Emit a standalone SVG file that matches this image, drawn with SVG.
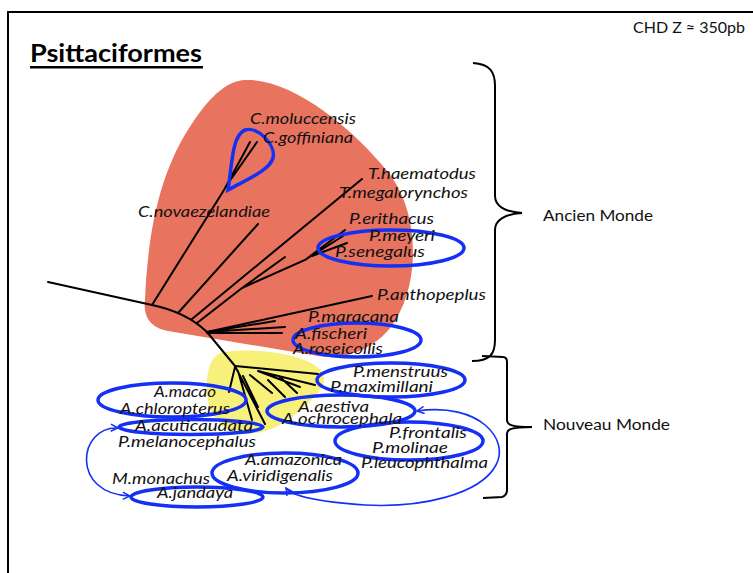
<svg xmlns="http://www.w3.org/2000/svg" width="753" height="573" viewBox="0 0 753 573">
<style>
.sp{font-family:Lato,"Liberation Sans",sans-serif;font-style:italic;font-size:15.5px;fill:#111}
.rg{font-family:Lato,"Liberation Sans",sans-serif;font-size:15.5px;fill:#111}
.br{fill:none;stroke:#000;stroke-width:2}
.tr{fill:none;stroke:#000;stroke-width:2;stroke-linecap:round}
.ov{fill:none;stroke:#1530F5;stroke-width:3.5}
.ar{fill:none;stroke:#1530F5;stroke-width:1.6}
</style>
<defs>
<marker id="ah" viewBox="0 0 10 10" refX="9" refY="5" markerWidth="9" markerHeight="9" markerUnits="userSpaceOnUse" orient="auto-start-reverse">
<path d="M1,1 L9,5 L1,9" fill="none" stroke="#1530F5" stroke-width="1.6"/>
</marker>
</defs>
<rect width="753" height="573" fill="#fff"/>
<path d="M8,573 L8,12 L753,12" fill="none" stroke="#000" stroke-width="2"/>

<g id="title">
<text x="30" y="62" font-family="Lato,'Liberation Sans',sans-serif" font-weight="bold" font-size="24" textLength="172" lengthAdjust="spacingAndGlyphs">Psittaciformes</text>
<rect x="30" y="66" width="173" height="2.5" fill="#000"/>
<text class="rg" x="633" y="33" font-size="14" textLength="112" lengthAdjust="spacingAndGlyphs">CHD Z ≈ 350pb</text>
</g>

<g id="blobs">
<path id="ancien-blob" d="M245,80 C290,78 350,125 388,172 C422,215 420,290 390,328 C372,350 345,360 318,356 L168,331 C150,328 143,316 145,300 C148,230 160,170 193,122 C212,94 228,81 245,80 Z" fill="#E8735F"/>
<path id="nouveau-blob" d="M226,352 C262,347 312,356 322,372 C330,386 312,400 297,413 C280,428 256,438 234,432 C213,426 205,402 207,382 C208,363 214,353 226,352 Z" fill="#F7F07A"/>
</g>

<g id="connectors">
<path class="tr" d="M48,282 L152,305 Q186,312 207,332 L235,366"/>
<path class="tr" d="M152,305 L224,190 L250,142 M229,182 L257,142"/>
<path class="tr" d="M178,313 L258,224"/>
<path class="tr" d="M192,319 L362,179"/>
<path class="tr" d="M197,323 L242,288 L285,257 M242,288 L305,260 L345,230 M305,260 L343,236 M312,256 L347,243"/>
<path class="tr" d="M207,332 L372,296"/>
<path class="tr" d="M207,332 L275,321 M207,332 L285,327 M207,333 L282,333"/>
<path class="tr" d="M235,366 L318,374 M258,371 L315,385 M258,371 L300,387 M280,377 L297,393 M268,380 L285,397 M250,375 L272,393 M243,376 L258,407 M238,371 L252,420 M236,368 L265,424 M235,367 L229,392"/>
</g>

<g id="groups">
<path id="g-cacatua" class="ov" d="M228,190 C232,165 232,135 245,130 C258,126 276,145 273,158 C270,170 246,180 228,190 Z"/>
<ellipse id="g-poicephalus" class="ov" cx="391" cy="248" rx="73" ry="18"/>
<ellipse id="g-agapornis" class="ov" cx="357" cy="340" rx="64" ry="17"/>
<ellipse id="g-pionus" class="ov" cx="391" cy="380" rx="74" ry="17"/>
<ellipse id="g-amazona1" class="ov" cx="341" cy="411" rx="74" ry="16"/>
<ellipse id="g-psittacara" class="ov" cx="409" cy="441" rx="74" ry="19"/>
<ellipse id="g-ara" class="ov" cx="172" cy="400" rx="74" ry="17"/>
<ellipse id="g-aratinga" class="ov" cx="191" cy="427" rx="72" ry="7.5"/>
<ellipse id="g-amazona2" class="ov" cx="285" cy="473" rx="73" ry="20"/>
<ellipse id="g-jandaya" class="ov" cx="197" cy="497" rx="66" ry="10"/>
<path id="arrow-left" class="ar" d="M118,428 C78,426 70,494 130,496" marker-start="url(#ah)" marker-end="url(#ah)"/>
<path id="arrow-right" class="ar" d="M417,411 C480,402 510,440 496,465 C480,495 420,508 365,505 C322,502 292,497 286,488" marker-start="url(#ah)" marker-end="url(#ah)"/>
</g>

<g id="braces">
<path id="brace-ancien" class="br" d="M473,63 C490,64 495,72 495,86 L495,196 C495,206 505,212 522,213 C505,214 495,220 495,230 L495,340 C495,354 490,361 472,361"/>
<path id="brace-nouveau" class="br" d="M482,356 L503,357 C506,357 507,359 507,362 L507,420 C507,425 512,427 532,427 C512,427 507,429 507,434 L507,490 C507,494 505,496 502,497 L483,498"/>
</g>

<g id="labels">
<text class="sp" x="250" y="124" textLength="106" lengthAdjust="spacingAndGlyphs">C.moluccensis</text>
<text class="sp" x="263" y="143" textLength="90" lengthAdjust="spacingAndGlyphs">C.goffiniana</text>
<text class="sp" x="138" y="217" textLength="132" lengthAdjust="spacingAndGlyphs">C.novaezelandiae</text>
<text class="sp" x="368" y="179" textLength="108" lengthAdjust="spacingAndGlyphs">T.haematodus</text>
<text class="sp" x="339" y="198" textLength="129" lengthAdjust="spacingAndGlyphs">T.megalorynchos</text>
<text class="sp" x="349" y="224" textLength="85" lengthAdjust="spacingAndGlyphs">P.erithacus</text>
<text class="sp" x="369" y="241" textLength="66" lengthAdjust="spacingAndGlyphs">P.meyeri</text>
<text class="sp" x="335" y="257" textLength="90" lengthAdjust="spacingAndGlyphs">P.senegalus</text>
<text class="sp" x="377" y="300" textLength="109" lengthAdjust="spacingAndGlyphs">P.anthopeplus</text>
<text class="sp" x="308" y="322" textLength="91" lengthAdjust="spacingAndGlyphs">P.maracana</text>
<text class="sp" x="295" y="339" textLength="72" lengthAdjust="spacingAndGlyphs">A.fischeri</text>
<text class="sp" x="293" y="354" textLength="90" lengthAdjust="spacingAndGlyphs">A.roseicollis</text>
<text class="sp" x="353" y="377" textLength="95" lengthAdjust="spacingAndGlyphs">P.menstruus</text>
<text class="sp" x="330" y="392" textLength="103" lengthAdjust="spacingAndGlyphs">P.maximillani</text>
<text class="sp" x="298" y="412" textLength="71" lengthAdjust="spacingAndGlyphs">A.aestiva</text>
<text class="sp" x="282" y="424" textLength="120" lengthAdjust="spacingAndGlyphs">A.ochrocephala</text>
<text class="sp" x="389" y="438" textLength="78" lengthAdjust="spacingAndGlyphs">P.frontalis</text>
<text class="sp" x="372" y="453" textLength="76" lengthAdjust="spacingAndGlyphs">P.molinae</text>
<text class="sp" x="361" y="468" textLength="127" lengthAdjust="spacingAndGlyphs">P.leucophthalma</text>
<text class="sp" x="154" y="397" textLength="62" lengthAdjust="spacingAndGlyphs">A.macao</text>
<text class="sp" x="120" y="414" textLength="110" lengthAdjust="spacingAndGlyphs">A.chloropterus</text>
<text class="sp" x="135" y="431" textLength="118" lengthAdjust="spacingAndGlyphs">A.acuticaudata</text>
<text class="sp" x="118" y="447" textLength="138" lengthAdjust="spacingAndGlyphs">P.melanocephalus</text>
<text class="sp" x="245" y="465" textLength="97" lengthAdjust="spacingAndGlyphs">A.amazonica</text>
<text class="sp" x="227" y="481" textLength="106" lengthAdjust="spacingAndGlyphs">A.viridigenalis</text>
<text class="sp" x="112" y="484" textLength="98" lengthAdjust="spacingAndGlyphs">M.monachus</text>
<text class="sp" x="157" y="498" textLength="76" lengthAdjust="spacingAndGlyphs">A.jandaya</text>
<text class="rg" x="543" y="221" textLength="110" lengthAdjust="spacingAndGlyphs">Ancien Monde</text>
<text class="rg" x="543" y="430" textLength="127" lengthAdjust="spacingAndGlyphs">Nouveau Monde</text>
</g>
</svg>
